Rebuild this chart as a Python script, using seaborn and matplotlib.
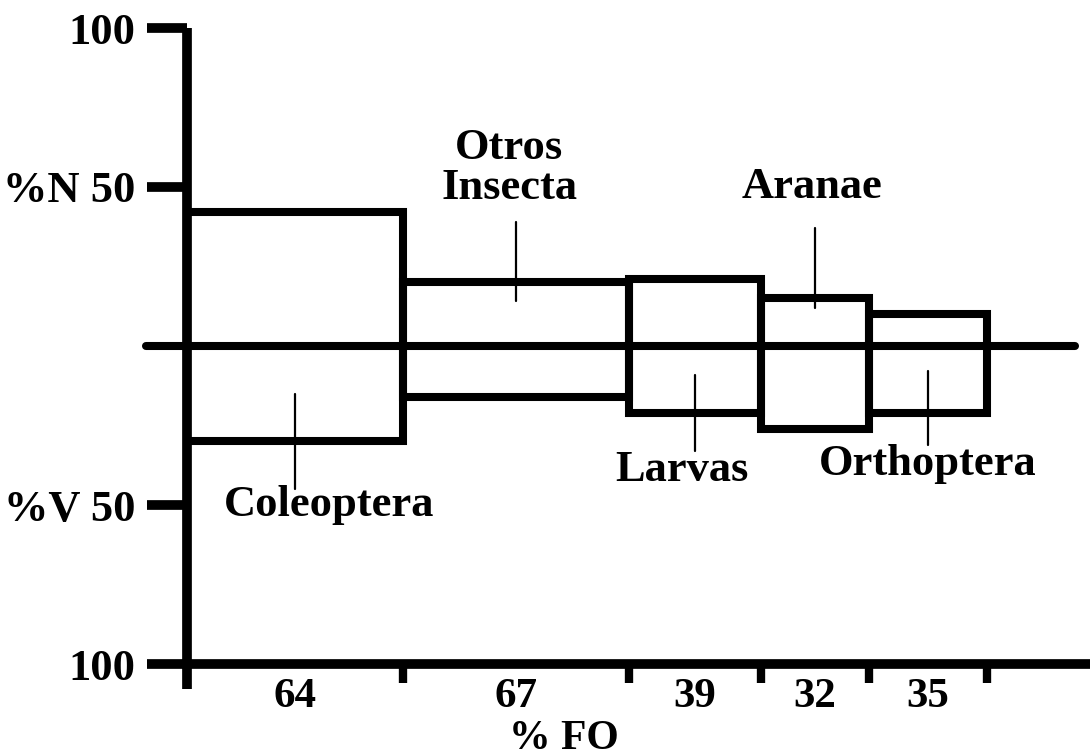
#!/usr/bin/env python3

"""
Costello-type diet diagram: %N (up), %V (down) vs cumulative %FO.
"""

import matplotlib.pyplot as plt
import numpy as np
import pandas as pd
import seaborn as sns

# prey categories and their values
categories = ["Coleoptera", "Otros\nInsecta", "Larvas", "Aranae", "Orthoptera"]
pct_fo = [64, 67, 39, 32, 35]
pct_n = [42, 20, 21, 15, 10]
pct_v = [30, 16, 21, 26, 21]

y_ticks = [100, 50, -50, -100]
y_tick_labels = ["100", "%N 50", "%V 50", "100"]


def make_plot():
    sns.set_theme(style="ticks")
    plt.rcParams["font.family"] = ["Liberation Serif", "DejaVu Serif"]
    plt.rcParams["font.weight"] = "bold"
    plt.rcParams["text.color"] = "black"
    plt.rcParams["axes.labelcolor"] = "black"
    plt.rcParams["xtick.color"] = "black"
    plt.rcParams["ytick.color"] = "black"

    df = pd.DataFrame({"cat": categories, "fo": pct_fo, "n": pct_n, "v": pct_v})
    df["left"] = df["fo"].cumsum() - df["fo"]
    df["mid"] = df["left"] + df["fo"] / 2

    fig = plt.figure(figsize=(10.9, 7.56), dpi=100)
    ax = fig.add_axes([187 / 1090, 92 / 756, 903 / 1090, 636 / 756])

    box_lw = 5.8
    ax.bar(df["left"], df["n"] + df["v"], width=df["fo"], bottom=-df["v"],
           align="edge", fill=False, edgecolor="black", linewidth=box_lw,
           joinstyle="miter", zorder=3)

    # central zero line
    ax.plot([-12, 263], [0, 0], color="black", lw=box_lw,
            solid_capstyle="round", clip_on=False, zorder=4)

    # label placement (offsets from box centre)
    label_y = [-50, 56, -39, 50, -37]
    label_dx = [10, -2, -4, -1, 0]
    lead_from = [-15, 39, -9, 37, -8]
    lead_to = [-45, 14, -33, 12, -31]
    for i, row in df.iterrows():
        x = row["mid"]
        ax.plot([x, x], [lead_from[i], lead_to[i]], color="black", lw=1.6, zorder=2)
        ax.text(x + label_dx[i], label_y[i], row["cat"], ha="center", va="center",
                fontsize=32, fontweight="bold", linespacing=1.0, color="black")

    ax.set_xlim(0, 267.5)
    ax.set_ylim(-100, 100)

    sns.despine(ax=ax, top=True, right=True)
    for side in ["left", "bottom"]:
        ax.spines[side].set_linewidth(7)
        ax.spines[side].set_color("black")
    ax.spines["left"].set_bounds(-108, 100)
    ax.spines["left"].set_capstyle("butt")
    ax.spines["bottom"].set_position(("data", -100))

    ax.set_yticks(y_ticks)
    ax.set_yticklabels(y_tick_labels)
    ax.tick_params(axis="y", direction="out", length=29, width=7, pad=8,
                   labelsize=32, color="black")

    bounds = list(df["left"].iloc[1:]) + [df["left"].iloc[-1] + df["fo"].iloc[-1]]
    ax.set_xticks(bounds)
    ax.set_xticklabels([""] * len(bounds))
    ax.set_xticks(df["mid"], minor=True)
    ax.set_xticklabels([str(v) for v in pct_fo], minor=True)
    ax.tick_params(axis="x", which="major", direction="out", length=14, width=6,
                   color="black")
    ax.tick_params(axis="x", which="minor", length=0, pad=10, labelsize=31)

    ax.set_xlabel("% FO", fontsize=30, fontweight="bold", color="black")
    ax.xaxis.label.set_verticalalignment("baseline")
    ax.xaxis.set_label_coords(0.417, -0.133)

    for lbl in ax.get_xticklabels(minor=True) + ax.get_yticklabels():
        lbl.set_fontweight("bold")

    ax.set_facecolor("white")
    fig.savefig("out.png", dpi=100, facecolor="white")


if __name__ == "__main__":
    make_plot()
